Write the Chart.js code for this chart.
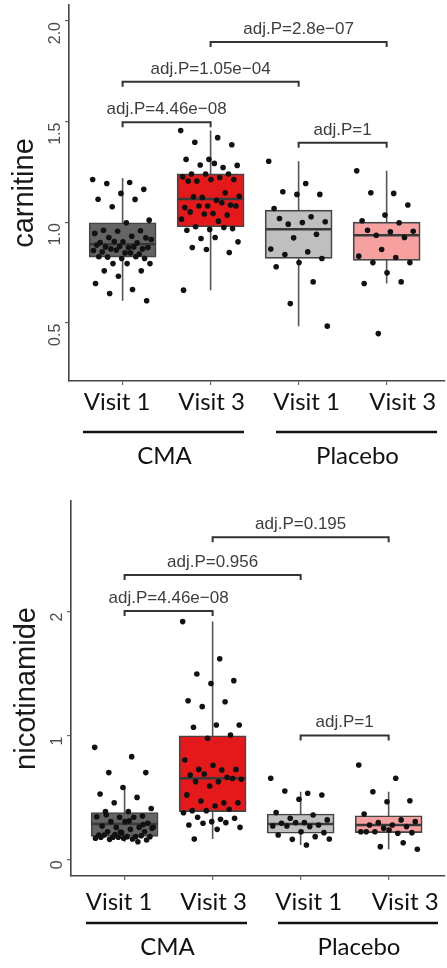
<!DOCTYPE html>
<html>
<head>
<meta charset="utf-8">
<script src="https://cdn.jsdelivr.net/npm/chart.js@4.4.0/dist/chart.umd.min.js"></script>
<style>
  body { margin: 0; background: #fff; }
  .panel { width: 447px; height: 484px; }
  canvas { display: block; }
</style>
</head>
<body>
<div class="panel"><canvas id="chart-carnitine" width="447" height="484"></canvas></div>
<div class="panel"><canvas id="chart-nicotinamide" width="447" height="484"></canvas></div>
<script>
// groups, in x order
const GROUPS = ['CMA Visit 1', 'CMA Visit 3', 'Placebo Visit 1', 'Placebo Visit 3'];
const VISIT_LABELS = ['Visit 1', 'Visit 3', 'Visit 1', 'Visit 3'];
const ARM_LABELS = ['CMA', 'Placebo'];
const BOX_COLORS = ['#646464', '#e3191b', '#bfbfbf', '#f7a0a0'];

// carnitine
const carnTicks = [0.5, 1.0, 1.5, 2.0];
const carnQ1 = [0.826, 0.977, 0.82, 0.81];
const carnMedian = [0.89, 1.115, 0.965, 0.935];
const carnQ3 = [0.997, 1.24, 1.06, 1.0];
const carnWhiskerLow = [0.609, 0.662, 0.483, 0.695];
const carnWhiskerHigh = [1.219, 1.455, 1.303, 1.255];
const carnCmaV1 = [1.212, 1.197, 1.192, 1.163, 1.143, 1.114, 1.113, 1.076, 1.010, 0.997, 0.960, 0.957, 0.955, 0.944,
  0.930, 0.924, 0.922, 0.902, 0.899, 0.897, 0.904, 0.914, 0.874, 0.877, 0.867, 0.879, 0.886, 0.877, 0.867, 0.874,
  0.847, 0.852, 0.842, 0.861, 0.859, 0.847, 0.826, 0.819, 0.819, 0.828, 0.828, 0.794, 0.794, 0.794, 0.758, 0.758,
  0.731, 0.695, 0.665, 0.645, 0.609];
const carnCmaV3 = [1.455, 1.42, 1.397, 1.385, 1.312, 1.312, 1.272, 1.284, 1.282, 1.292, 1.239, 1.239, 1.239, 1.226,
  1.222, 1.204, 1.212, 1.212, 1.204, 1.146, 1.123, 1.129, 1.109, 1.126, 1.085, 1.080, 1.073, 1.096, 1.080, 1.080,
  1.043, 1.051, 1.035, 1.040, 1.015, 1.005, 0.977, 0.968, 0.964, 0.960, 0.973, 0.919, 0.902, 0.924, 0.874, 0.849,
  0.864, 0.662];
const carnPlaV1 = [1.303, 1.192, 1.151, 1.138, 1.138, 1.068, 1.027, 0.990, 1.002, 0.998, 1.018, 0.940, 0.922, 0.866,
  0.852, 0.839, 0.819, 0.799, 0.778, 0.703, 0.595, 0.483];
const carnPlaV3 = [1.255, 1.143, 1.146, 1.085, 1.035, 1.007, 0.997, 0.935, 0.955, 0.952, 0.960, 0.924, 0.864, 0.831,
  0.824, 0.799, 0.799, 0.748, 0.695, 0.703, 0.446];
const carnBracketLabels = ['adj.P=4.46e\u221208', 'adj.P=1.05e\u221204', 'adj.P=2.8e\u221207', 'adj.P=1'];
const carnBracketFrom = [0, 0, 1, 2];
const carnBracketTo = [1, 2, 3, 3];
const carnBracketY = [1.497, 1.698, 1.896, 1.395];

// nicotinamide
const nicoTicks = [0, 1, 2];
const nicoQ1 = [0.185, 0.385, 0.21, 0.215];
const nicoMedian = [0.285, 0.654, 0.285, 0.277];
const nicoQ3 = [0.378, 0.998, 0.366, 0.352];
const nicoWhiskerLow = [0.142, 0.164, 0.116, 0.081];
const nicoWhiskerHigh = [0.58, 1.92, 0.546, 0.546];
const nicoCmaV1 = [0.904, 0.829, 0.70, 0.70, 0.58, 0.527, 0.50, 0.457, 0.41, 0.385, 0.385, 0.35, 0.339, 0.344, 0.339,
  0.304, 0.291, 0.304, 0.269, 0.258, 0.258, 0.258, 0.242, 0.223, 0.223, 0.215, 0.196, 0.183, 0.178, 0.183, 0.183,
  0.196, 0.19, 0.178, 0.17, 0.164, 0.161, 0.156, 0.17, 0.178, 0.142, 0.2, 0.25, 0.31, 0.36, 0.28, 0.22];
const nicoCmaV3 = [1.92, 1.62, 1.497, 1.443, 1.42, 1.28, 1.273, 1.233, 1.085, 1.085, 1.066, 1.004, 0.978, 0.802, 0.721,
  0.726, 0.726, 0.76, 0.68, 0.663, 0.688, 0.646, 0.627, 0.627, 0.653, 0.592, 0.52, 0.457, 0.471, 0.457, 0.43, 0.393,
  0.404, 0.393, 0.376, 0.323, 0.339, 0.331, 0.304, 0.277, 0.296, 0.291, 0.258, 0.242, 0.164];
const nicoPlaV1 = [0.654, 0.533, 0.552, 0.519, 0.485, 0.377, 0.358, 0.331, 0.318, 0.296, 0.291, 0.277, 0.296, 0.269,
  0.264, 0.269, 0.215, 0.223, 0.196, 0.183, 0.161, 0.164, 0.116];
const nicoPlaV3 = [0.762, 0.654, 0.546, 0.473, 0.465, 0.366, 0.318, 0.296, 0.304, 0.277, 0.277, 0.264, 0.25, 0.223,
  0.21, 0.223, 0.215, 0.237, 0.223, 0.134, 0.102, 0.081];
const nicoBracketLabels = ['adj.P=4.46e\u221208', 'adj.P=0.956', 'adj.P=0.195', 'adj.P=1'];
const nicoBracketFrom = [0, 0, 1, 2];
const nicoBracketTo = [1, 2, 3, 3];
const nicoBracketY = [2.006, 2.296, 2.601, 1.0];

const BOX_HALF = 0.375;

// deterministic horizontal spread for the dots
function jitter(i) {
  return (((i * 0.618034) % 1) - 0.5) * 0.68;
}

function segments(list) {
  return list.flatMap(s => [...s, { x: s[0].x, y: null }]);
}

function buildDatasets(p) {
  const tip = (p.yMax - p.yMin) * 0.0135;
  const points = [];
  p.points.forEach((vals, g) => vals.forEach((v, k) => points.push({ x: g + jitter(k), y: v })));

  return [
    {
      type: 'scatter', data: points, order: 0,
      pointRadius: 2.8, pointHoverRadius: 2.8, backgroundColor: '#111', borderWidth: 0
    },
    {
      type: 'line', order: 0, pointRadius: 0, borderColor: '#333', borderWidth: 2, spanGaps: false,
      data: segments(p.bracketFrom.map((a, i) => {
        const b = p.bracketTo[i], h = p.bracketY[i];
        return [{ x: a, y: h - tip }, { x: a, y: h }, { x: b, y: h }, { x: b, y: h - tip }];
      }))
    },
    {
      type: 'line', order: 1, pointRadius: 0, borderColor: '#3a3a3a', borderWidth: 2.4, spanGaps: false,
      data: segments(p.median.map((m, i) => [{ x: i - BOX_HALF, y: m }, { x: i + BOX_HALF, y: m }]))
    },
    {
      type: 'bar', order: 2, barThickness: 67, borderSkipped: false,
      data: p.q1.map((q, i) => ({ x: i, y: [q, p.q3[i]] })),
      backgroundColor: BOX_COLORS, borderColor: '#454545', borderWidth: 1.7
    },
    {
      type: 'line', order: 3, pointRadius: 0, borderColor: '#555', borderWidth: 1.6, spanGaps: false,
      data: segments(p.lo.map((lo, i) => [{ x: i, y: lo }, { x: i, y: p.hi[i] }]))
    }
  ];
}

function annotatePlugin(p) {
  return {
    id: 'annotate',
    afterDraw(chart) {
      const ctx = chart.ctx, xs = chart.scales.x, ys = chart.scales.y, area = chart.chartArea;
      ctx.save();

      // y tick labels, rotated
      ctx.fillStyle = '#4d4d4d';
      ctx.font = '16px "Liberation Sans", Arial, sans-serif';
      p.yTicks.forEach(v => {
        ctx.save();
        ctx.translate(p.tickLabelX, ys.getPixelForValue(v) + 1);
        ctx.rotate(-Math.PI / 2);
        ctx.textAlign = 'right';
        ctx.textBaseline = 'alphabetic';
        ctx.fillText(p.tickFormat(v), 0, 0);
        ctx.restore();
      });

      // y title
      ctx.save();
      ctx.fillStyle = '#1a1a1a';
      ctx.font = '29px "Liberation Sans", Arial, sans-serif';
      ctx.translate(p.titleX, (area.top + area.bottom) / 2);
      ctx.rotate(-Math.PI / 2);
      ctx.textAlign = 'center';
      ctx.textBaseline = 'alphabetic';
      ctx.fillText(p.title, 0, 0);
      ctx.restore();

      // comparison labels
      ctx.fillStyle = '#3d3d3d';
      ctx.font = '17px "Liberation Sans", Arial, sans-serif';
      ctx.textAlign = 'center';
      ctx.textBaseline = 'alphabetic';
      p.bracketLabels.forEach((t, i) => {
        const cx = xs.getPixelForValue((p.bracketFrom[i] + p.bracketTo[i]) / 2);
        ctx.fillText(t, cx, ys.getPixelForValue(p.bracketY[i]) - 8);
      });

      // visit / arm labels under the axis
      ctx.fillStyle = '#111';
      ctx.font = '24px Lato, "Open Sans", sans-serif';
      VISIT_LABELS.forEach((t, i) => {
        ctx.fillText(t, xs.getPixelForValue(i) + p.visitShift[i], area.bottom + p.visitDy);
      });
      ctx.strokeStyle = '#111';
      ctx.lineWidth = 2.6;
      p.underlines.forEach(([a, b]) => {
        ctx.beginPath();
        ctx.moveTo(a, area.bottom + p.lineDy);
        ctx.lineTo(b, area.bottom + p.lineDy);
        ctx.stroke();
      });
      ARM_LABELS.forEach((t, i) => {
        ctx.fillText(t, (p.underlines[i][0] + p.underlines[i][1]) / 2 + 1, area.bottom + p.armDy);
      });
      ctx.restore();
    }
  };
}

function renderPanel(canvasId, p) {
  const canvas = document.getElementById(canvasId);
  return new Chart(canvas, {
    type: 'bar',
    data: { datasets: buildDatasets(p) },
    plugins: [annotatePlugin(p)],
    options: {
      responsive: false, animation: false, devicePixelRatio: 1,
      layout: { padding: { top: p.padTop, right: 0, left: 0, bottom: 0 } },
      plugins: { legend: { display: false }, tooltip: { enabled: false } },
      scales: {
        x: {
          type: 'linear', min: p.xMin, max: p.xMax, offset: false,
          afterBuildTicks: s => { s.ticks = GROUPS.map((g, i) => ({ value: i })); },
          afterFit: s => { s.height = p.xAxisHeight; },
          ticks: { display: false },
          grid: { display: true, drawOnChartArea: false, offset: false, tickLength: 4, color: '#666', lineWidth: 1.2 },
          border: { display: true, color: '#444', width: 1.6 }
        },
        y: {
          type: 'linear', min: p.yMin, max: p.yMax,
          afterBuildTicks: s => { s.ticks = p.yTicks.map(v => ({ value: v })); },
          afterFit: s => { s.width = p.yAxisWidth; },
          ticks: { display: false },
          grid: { display: true, drawOnChartArea: false, tickLength: 4, color: '#666', lineWidth: 1.2 },
          border: { display: true, color: '#444', width: 1.6 }
        }
      }
    }
  });
}

renderPanel('chart-carnitine', {
  title: 'carnitine', yTicks: carnTicks, tickFormat: v => v.toFixed(1),
  q1: carnQ1, q3: carnQ3, median: carnMedian, lo: carnWhiskerLow, hi: carnWhiskerHigh,
  points: [carnCmaV1, carnCmaV3, carnPlaV1, carnPlaV3],
  bracketLabels: carnBracketLabels, bracketFrom: carnBracketFrom, bracketTo: carnBracketTo, bracketY: carnBracketY,
  xMin: -0.609, xMax: 3.654, yMin: 0.2103, yMax: 2.0795,
  padTop: 5, xAxisHeight: 103, yAxisWidth: 69,
  tickLabelX: 60, titleX: 33,
  visitShift: [-5.5, 1, 8, 16], visitDy: 29, lineDy: 51, armDy: 83,
  underlines: [[83, 244], [276, 437]]
});

renderPanel('chart-nicotinamide', {
  title: 'nicotinamide', yTicks: nicoTicks, tickFormat: v => String(v),
  q1: nicoQ1, q3: nicoQ3, median: nicoMedian, lo: nicoWhiskerLow, hi: nicoWhiskerHigh,
  points: [nicoCmaV1, nicoCmaV3, nicoPlaV1, nicoPlaV3],
  bracketLabels: nicoBracketLabels, bracketFrom: nicoBracketFrom, bracketTo: nicoBracketTo, bracketY: nicoBracketY,
  xMin: -0.609, xMax: 3.631, yMin: -0.135, yMax: 2.894,
  padTop: 17, xAxisHeight: 92, yAxisWidth: 71,
  tickLabelX: 62, titleX: 35,
  visitShift: [-5.5, 1, 8, 16.5], visitDy: 34, lineDy: 47, armDy: 79,
  underlines: [[86, 247], [278, 438]]
});
</script>
</body>
</html>
